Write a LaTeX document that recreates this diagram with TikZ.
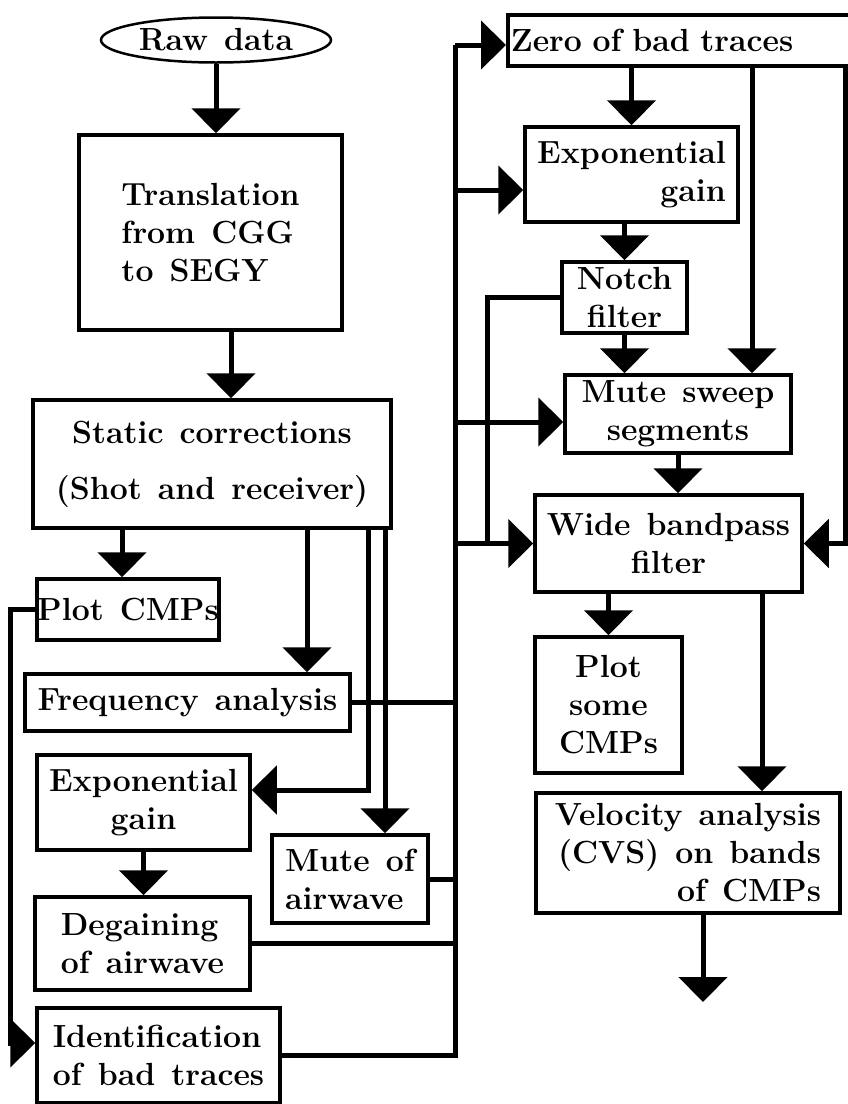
\documentclass[tikz,border=0pt]{standalone}
\usepackage{tikz}
\usetikzlibrary{arrows.meta,positioning,calc,shapes.geometric}
\newcommand{\boxfont}{\fontsize{32}{38}\selectfont\bfseries\spaceskip=16pt plus 2pt\relax}

\begin{document}
\begin{tikzpicture}[x=1pt,y=-1pt, every node/.append style={font=\boxfont, inner sep=1.5pt},
    procbox/.style={draw, rectangle, line width=3.5pt},
    rawdata/.style={draw, ellipse, line width=2.5pt, minimum width=230pt, minimum height=45pt, inner sep=0pt},
    flow/.style={line width=5pt, -{Triangle[width=48pt,length=25pt]}},
    link/.style={line width=5pt}]
    \useasboundingbox (0,0) rectangle (848,1104);
    % left column
    \node[rawdata] (raw) at (216,40) {Raw data};
    \node[procbox, minimum width=263pt, minimum height=195pt, align=left] (trans) at (210.5,232.5) {Translation\\from CGG\\to SEGY};
    \node[procbox, minimum width=358pt, minimum height=128pt, align=center] (static) at (212,464) {Static corrections\\[18pt](Shot and receiver)};
    \node[procbox, minimum width=181pt, minimum height=61pt, inner sep=0pt] (plotcmp) at (128,609.5) {Plot CMPs};
    \node[procbox, minimum width=325pt, minimum height=57pt] (freq) at (187.5,702.5) {Frequency analysis};
    \node[procbox, minimum width=213pt, minimum height=95pt, align=center] (gainL) at (143.5,802.5) {Exponential\\gain};
    \node[procbox, minimum width=156pt, minimum height=88pt, align=left] (muteair) at (350,879) {Mute of\\airwave};
    \node[procbox, minimum width=215pt, minimum height=93pt, align=left] (degain) at (142.5,943.5) {Degaining\\of airwave};
    \node[procbox, minimum width=243pt, minimum height=95pt, align=left] (ident) at (158.5,1055.5) {Identification\\of bad traces};
    % right column
    \node[procbox, anchor=west, text width=338pt, inner sep=3pt, minimum height=51pt, align=left] (zero) at (506,40.5) {Zero of bad traces};
    \node[procbox, minimum width=213pt, minimum height=95pt, align=right] (gainR) at (631.5,174.5) {Exponential\\gain};
    \node[procbox, minimum width=125pt, minimum height=71pt, align=center] (notch) at (624.5,297.5) {Notch\\filter};
    \node[procbox, minimum width=226pt, minimum height=78pt, align=center] (sweep) at (678,414) {Mute sweep\\segments};
    \node[procbox, minimum width=267pt, minimum height=97pt, align=center] (wide) at (668.5,543.5) {Wide bandpass\\filter};
    \node[procbox, minimum width=147pt, minimum height=136pt, align=center] (plotsome) at (608.5,705) {Plot\\some\\CMPs};
    \node[procbox, minimum width=304pt, minimum height=120pt, align=right] (velo) at (688,853) {Velocity analysis\\(CVS) on bands\\of CMPs};
    \coordinate (bus) at (455,45);
    \coordinate (notchbus) at (487,300);
    \coordinate (rbus) at (845,66);
    \coordinate (tail) at (703,1002);
    % left flow
    \draw[flow] (raw.south) -- (raw.south |- trans.north);
    \draw[flow] ([xshift=20.5pt]trans.south) -- ([xshift=20.5pt]trans.south |- static.north);
    \draw[flow] ([xshift=-6pt]plotcmp.north |- static.south) -- ([xshift=-6pt]plotcmp.north);
    \draw[flow] ([xshift=119.5pt]freq.north |- static.south) -- ([xshift=119.5pt]freq.north);
    \draw[flow] ([xshift=156pt]static.south) |- ([yshift=12.5pt]gainL.east);
    \draw[flow] ([xshift=35pt]muteair.north |- static.south) -- ([xshift=35pt]muteair.north);
    \draw[flow] (gainL.south) -- (gainL.south |- degain.north);
    \draw[flow] (plotcmp.west) -- ++(-25,0) |- ([yshift=12.5pt]ident.west);
    % bus
    \draw[link] (ident.east) -| (bus);
    \draw[flow] (bus) -- (bus -| zero.west);
    \draw[link] (freq.east) -- (freq.east -| bus);
    \draw[link] (muteair.east) -- (muteair.east -| bus);
    \draw[link] (degain.east) -- (degain.east -| bus);
    \draw[flow] ([yshift=-15.5pt]gainR.west -| bus) -- ([yshift=-15.5pt]gainR.west);
    \draw[flow] ([yshift=-8pt]sweep.west -| bus) -- ([yshift=-8pt]sweep.west);
    \draw[flow] (wide.west -| bus) -- (wide.west);
    \draw[link] (notch.west) -| (notchbus |- wide.west);
    % right flow
    \draw[flow] (gainR.north |- zero.south) -- (gainR.north);
    \draw[flow] ([xshift=74pt]sweep.north |- zero.south) -- ([xshift=74pt]sweep.north);
    \draw[flow] (rbus |- zero.south) |- (wide.east);
    \draw[flow] (gainR.south -| notch.north) -- (notch.north);
    \draw[flow] (notch.south) -- (notch.south |- sweep.north);
    \draw[flow] (sweep.south) -- (sweep.south |- wide.north);
    \draw[flow] (wide.south -| plotsome.north) -- (plotsome.north);
    \draw[flow] ([xshift=74pt]velo.north |- wide.south) -- ([xshift=74pt]velo.north);
    \draw[flow] (velo.south -| tail) -- (tail);
\end{tikzpicture}
\end{document}
